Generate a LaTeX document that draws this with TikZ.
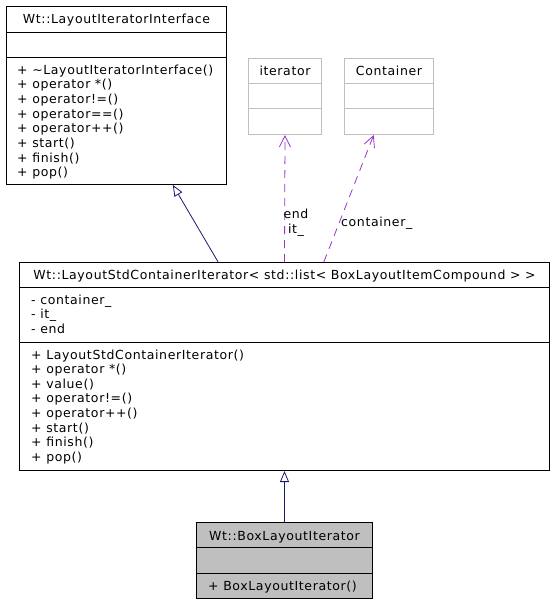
\documentclass[tikz,border=0pt]{standalone}
\usepackage{fontspec}
\setmainfont{DejaVu Sans}[LetterSpace=5]
\usetikzlibrary{arrows.meta,calc}
\definecolor{edgeblue}{HTML}{191970}
\definecolor{edgepurple}{HTML}{9A32CD}
\definecolor{boxgrey}{HTML}{BFBFBF}
\begin{document}
\begin{tikzpicture}[x=1pt,y=-1pt,
  classbox/.style={draw=black, line width=1pt, inner sep=0pt, anchor=north west},
  extbox/.style={draw=boxgrey, line width=1pt, inner sep=0pt, anchor=north west},
  divider/.style={line width=1pt, draw=black},
  extdivider/.style={line width=1pt, draw=boxgrey},
  txt/.style={inner sep=0pt, font=\fontsize{12.5}{14.6}\selectfont},
  inherit/.style={draw=edgeblue, line width=0.8pt, -{Triangle[open, length=11pt, width=9pt]}},
  useedge/.style={draw=edgepurple, line width=0.8pt, dash pattern=on 8pt off 6pt, -{Straight Barb[length=11pt, width=11pt]}}
]
\useasboundingbox (0,0) rectangle (555,603);

% ---- Wt::LayoutIteratorInterface
\node[classbox, minimum width=220pt, minimum height=178pt] (b1) at (6,6) {};
\draw[divider] ($(b1.north west)+(0,26)$) -- ($(b1.north east)+(0,26)$);
\draw[divider] ($(b1.north west)+(0,51)$) -- ($(b1.north east)+(0,51)$);
\node[txt, anchor=base] (b1h) at ($(b1.north)+(0,17)$) {Wt::LayoutIteratorInterface};
\foreach \t [count=\i] in {+ \textasciitilde LayoutIteratorInterface(), + operator *(), + operator!=(), + operator==(), + operator++(), + start(), + finish(), + pop()}
  \node[txt, anchor=base west] (b1m\i) at ($(b1.north west)+(11,68+14.67*\i-14.67)$) {\t};

% ---- iterator
\node[extbox, minimum width=73pt, minimum height=76pt] (it) at (248,58) {};
\draw[extdivider] ($(it.north west)+(0,25)$) -- ($(it.north east)+(0,25)$);
\draw[extdivider] ($(it.north west)+(0,50)$) -- ($(it.north east)+(0,50)$);
\node[txt, anchor=base] (ith) at ($(it.north)+(0,17)$) {iterator};

% ---- Container
\node[extbox, minimum width=89pt, minimum height=76pt] (co) at (344,58) {};
\draw[extdivider] ($(co.north west)+(0,25)$) -- ($(co.north east)+(0,25)$);
\draw[extdivider] ($(co.north west)+(0,50)$) -- ($(co.north east)+(0,50)$);
\node[txt, anchor=base] (coh) at ($(co.north)+(0,17)$) {Container};

% ---- Wt::LayoutStdContainerIterator
\node[classbox, minimum width=530pt, minimum height=208pt] (b2) at (19,262) {};
\draw[divider] ($(b2.north west)+(0,25)$) -- ($(b2.north east)+(0,25)$);
\draw[divider] ($(b2.north west)+(0,80)$) -- ($(b2.north east)+(0,80)$);
\node[txt, anchor=base] (b2h) at ($(b2.north)+(0,17)$) {Wt::LayoutStdContainerIterator< std::list< BoxLayoutItemCompound > >};
\foreach \t [count=\i] in {- container\_, - it\_, - end}
  \node[txt, anchor=base west] (b2a\i) at ($(b2.north west)+(12,42+14.6*\i-14.6)$) {\t};
\foreach \t [count=\i] in {+ LayoutStdContainerIterator(), + operator *(), + value(), + operator!=(), + operator++(), + start(), + finish(), + pop()}
  \node[txt, anchor=base west] (b2m\i) at ($(b2.north west)+(12,97+14.6*\i-14.6)$) {\t};

% ---- Wt::BoxLayoutIterator
\node[classbox, fill=boxgrey, minimum width=176pt, minimum height=76pt] (b3) at (196,522) {};
\draw[divider] ($(b3.north west)+(0,25)$) -- ($(b3.north east)+(0,25)$);
\draw[divider] ($(b3.north west)+(0,51)$) -- ($(b3.north east)+(0,51)$);
\node[txt, anchor=base] (b3h) at ($(b3.north)+(0,18)$) {Wt::BoxLayoutIterator};
\node[txt, anchor=base west] (b3m1) at ($(b3.north west)+(12,68.5)$) {+ BoxLayoutIterator()};

% ---- connectors
\draw[inherit] ($(b2.north west)!0.375!(b2.north east)$) -- ($(b1.south west)!0.755!(b1.south east)$);
\draw[inherit] (b3.north) -- (b2.south);
\draw[useedge] (b2.north) -- (it.south);
\draw[useedge] ($(b2.north west)!0.574!(b2.north east)$) -- ($(co.south west)!0.33!(co.south east)$);
\node[txt, align=center] (lbl1) at (296,223) {end\\it\_};
\node[txt, anchor=west] (lbl2) at (341,223) {container\_};
\end{tikzpicture}
\end{document}
